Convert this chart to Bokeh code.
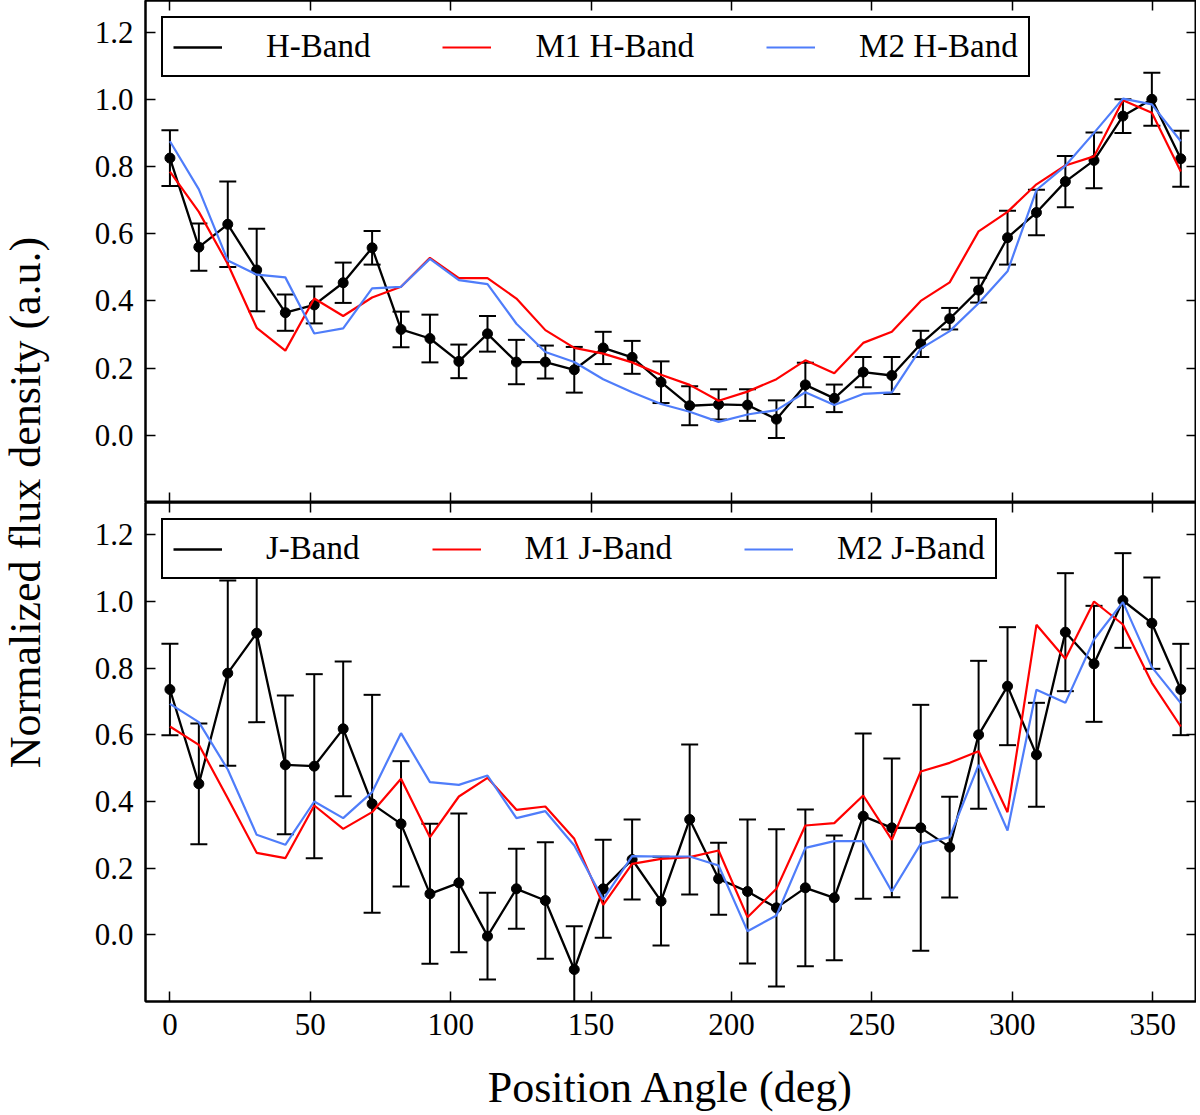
"""
Normalized flux density vs. position angle, H-band (top) and J-band (bottom),
with the two model curves (M1, M2) overplotted on each band.
"""

import numpy as np
from bokeh.plotting import figure
from bokeh.models import (
    ColumnDataSource, Whisker, TeeHead, LinearAxis, FixedTicker,
    PrintfTickFormatter, Range1d, Label, CustomLabelingPolicy,
)
from bokeh.layouts import column, row
from bokeh.embed import file_html
from bokeh.resources import INLINE

FONT = "Liberation Serif"
RED = "#ff0000"
BLUE = "#4f7dfa"

# position angle of each sample (deg)
angle = [0.0, 10.3, 20.6, 30.9, 41.1, 51.4, 61.7, 72.0, 82.3, 92.6, 102.9,
         113.1, 123.4, 133.7, 144.0, 154.3, 164.6, 174.9, 185.1, 195.4,
         205.7, 216.0, 226.3, 236.6, 246.9, 257.1, 267.4, 277.7, 288.0,
         298.3, 308.6, 318.9, 329.1, 339.4, 349.7, 360.0]

# H-band
h_flux = [0.825, 0.56, 0.628, 0.492, 0.365, 0.388, 0.454, 0.558, 0.315, 0.288,
          0.22, 0.302, 0.218, 0.218, 0.195, 0.26, 0.232, 0.158, 0.088, 0.092,
          0.09, 0.048, 0.15, 0.11, 0.188, 0.178, 0.272, 0.347, 0.432, 0.588,
          0.663, 0.755, 0.818, 0.95, 1.0, 0.823]
h_err = [0.083, 0.07, 0.127, 0.123, 0.054, 0.055, 0.06, 0.05, 0.053, 0.071,
         0.05, 0.053, 0.066, 0.049, 0.068, 0.048, 0.049, 0.062, 0.058, 0.045,
         0.047, 0.056, 0.066, 0.041, 0.045, 0.055, 0.039, 0.032, 0.037, 0.08,
         0.068, 0.076, 0.083, 0.05, 0.079, 0.083]
m1_h = [0.785, 0.665, 0.51, 0.32, 0.252, 0.407, 0.355, 0.41, 0.442, 0.528,
        0.468, 0.468, 0.407, 0.313, 0.26, 0.243, 0.217, 0.18, 0.15, 0.103,
        0.13, 0.167, 0.223, 0.185, 0.275, 0.308, 0.4, 0.455, 0.607, 0.665,
        0.747, 0.803, 0.83, 0.997, 0.96, 0.785]
m2_h = [0.875, 0.732, 0.52, 0.478, 0.47, 0.303, 0.318, 0.437, 0.442, 0.525,
        0.462, 0.45, 0.332, 0.248, 0.218, 0.167, 0.128, 0.093, 0.07, 0.04,
        0.062, 0.075, 0.128, 0.09, 0.123, 0.128, 0.258, 0.31, 0.393, 0.488,
        0.73, 0.802, 0.9, 1.002, 0.985, 0.875]

# J-band
j_flux = [0.736, 0.453, 0.785, 0.905, 0.51, 0.506, 0.618, 0.393, 0.333, 0.123,
          0.156, -0.004, 0.138, 0.103, -0.104, 0.138, 0.226, 0.101, 0.346,
          0.168, 0.13, 0.081, 0.141, 0.111, 0.356, 0.321, 0.321, 0.263, 0.6,
          0.746, 0.54, 0.908, 0.813, 1.003, 0.935, 0.736]
j_err = [0.137, 0.181, 0.278, 0.267, 0.208, 0.276, 0.202, 0.327, 0.188, 0.21,
         0.208, 0.13, 0.12, 0.175, 0.13, 0.147, 0.12, 0.133, 0.225, 0.108,
         0.216, 0.236, 0.235, 0.187, 0.248, 0.208, 0.369, 0.151, 0.222, 0.177,
         0.156, 0.177, 0.174, 0.142, 0.137, 0.137]
m1_j = [0.625, 0.57, 0.41, 0.246, 0.23, 0.388, 0.318, 0.368, 0.468, 0.293,
        0.415, 0.471, 0.375, 0.385, 0.288, 0.09, 0.213, 0.228, 0.233, 0.253,
        0.053, 0.138, 0.328, 0.335, 0.418, 0.285, 0.49, 0.516, 0.551, 0.368,
        0.93, 0.828, 1.0, 0.931, 0.756, 0.625]
m2_j = [0.693, 0.638, 0.496, 0.3, 0.27, 0.4, 0.35, 0.428, 0.605, 0.458,
        0.45, 0.478, 0.35, 0.371, 0.268, 0.106, 0.236, 0.235, 0.235, 0.208,
        0.011, 0.058, 0.261, 0.281, 0.281, 0.13, 0.273, 0.293, 0.51, 0.313,
        0.735, 0.696, 0.886, 0.998, 0.803, 0.695]

x_ticks = [0, 50, 100, 150, 200, 250, 300, 350]
y_ticks = [0.0, 0.2, 0.4, 0.6, 0.8, 1.0, 1.2]

X_RANGE = (-8.7, 365.6)
LEFT_W = 60        # strip holding the shared y label
BORDER_LEFT = 85
PLOT_W = 1136

# hides every tick label of the mirror axes (ticks only)
NO_LABELS = CustomLabelingPolicy(
    code="for (const i of indices) indices.unset(i); return indices")


def style_axis(ax, ticks, show_labels):
    ax.ticker = FixedTicker(ticks=ticks)
    ax.axis_line_width = 2
    ax.axis_line_color = "black"
    ax.major_tick_in = 10
    ax.major_tick_out = 0
    ax.major_tick_line_width = 1.5
    ax.major_tick_line_color = "black"
    ax.minor_tick_line_color = None
    ax.axis_label_text_font = FONT
    ax.axis_label_text_font_style = "normal"
    ax.axis_label_text_font_size = "44px"
    ax.axis_label_text_color = "black"
    ax.major_label_text_font = FONT
    ax.major_label_text_color = "black"
    if show_labels:
        ax.major_label_text_font_size = "31px"
        ax.major_label_standoff = 12
    else:
        ax.major_label_text_font_size = "0px"
        ax.major_label_standoff = 0
        ax.major_label_policy = NO_LABELS


def band_panel(height, y_range, flux, err, m1, m2, names, bottom_axis):
    p = figure(
        width=PLOT_W, height=height,
        x_range=Range1d(*X_RANGE), y_range=Range1d(*y_range),
        toolbar_location=None, output_backend="svg",
        min_border_left=BORDER_LEFT, min_border_right=0,
        min_border_top=0, min_border_bottom=0,
    )
    p.grid.visible = False
    p.outline_line_color = "black"
    p.outline_line_width = 2
    p.yaxis.formatter = PrintfTickFormatter(format="%.1f")

    p.add_layout(LinearAxis(), "above")
    p.add_layout(LinearAxis(), "right")
    style_axis(p.below[0], x_ticks, bottom_axis)
    style_axis(p.above[0], x_ticks, False)
    style_axis(p.left[0], y_ticks, True)
    style_axis(p.right[0], y_ticks, False)

    flux = np.array(flux)
    err = np.array(err)
    src = ColumnDataSource(data=dict(x=angle, y=flux,
                                     upper=flux + err, lower=flux - err))

    p.add_layout(Whisker(
        source=src, base="x", upper="upper", lower="lower",
        line_color="black", line_width=2, level="underlay",
        upper_head=TeeHead(size=17, line_color="black", line_width=2),
        lower_head=TeeHead(size=17, line_color="black", line_width=2),
    ))
    p.line("x", "y", source=src, color="black", line_width=2.3,
           legend_label=names[0])
    p.scatter("x", "y", source=src, size=10, color="black")
    p.line(angle, m1, color=RED, line_width=2.2, legend_label=names[1])
    p.line(angle, m2, color=BLUE, line_width=2.2, legend_label=names[2])

    lg = p.legend[0]
    lg.location = "top_left"
    lg.orientation = "horizontal"
    lg.margin = 16
    lg.padding = 10
    lg.spacing = 72
    lg.glyph_width = 49
    lg.glyph_height = 30
    lg.label_standoff = 44
    lg.label_text_font = FONT
    lg.label_text_font_size = "33px"
    lg.label_text_color = "black"
    lg.border_line_color = "black"
    lg.border_line_alpha = 1.0
    lg.border_line_width = 2
    lg.background_fill_alpha = 1.0
    return p


# top: frame rows 2..500 ; bottom: frame rows 502..1001 (same scale)
top = band_panel(502, (-0.2, 1.294), h_flux, h_err, m1_h, m2_h,
                 ["H-Band", "M1 H-Band", "M2 H-Band"], bottom_axis=False)
bottom = band_panel(612, (-0.2, 1.297), j_flux, j_err, m1_j, m2_j,
                    ["J-Band", "M1 J-Band", "M2 J-Band"], bottom_axis=True)
bottom.below[0].axis_label = "Position Angle (deg)"
bottom.below[0].axis_label_standoff = 25

# shared y-axis label in its own narrow strip
ylab = figure(width=LEFT_W, height=1114, x_range=(0, 1), y_range=(0, 1),
              toolbar_location=None, output_backend="svg",
              x_axis_location=None, y_axis_location=None, min_border=0)
ylab.grid.visible = False
ylab.outline_line_color = None
ylab.add_layout(Label(
    x=25, y=1114 - 502, x_units="screen", y_units="screen",
    text="Normalized flux density (a.u.)", angle=np.pi / 2,
    text_align="center", text_baseline="middle", text_color="black",
    text_font=FONT, text_font_size="44px",
))

p = row(ylab, column(top, bottom))

open("out.html", "w").write(file_html(p, INLINE))
